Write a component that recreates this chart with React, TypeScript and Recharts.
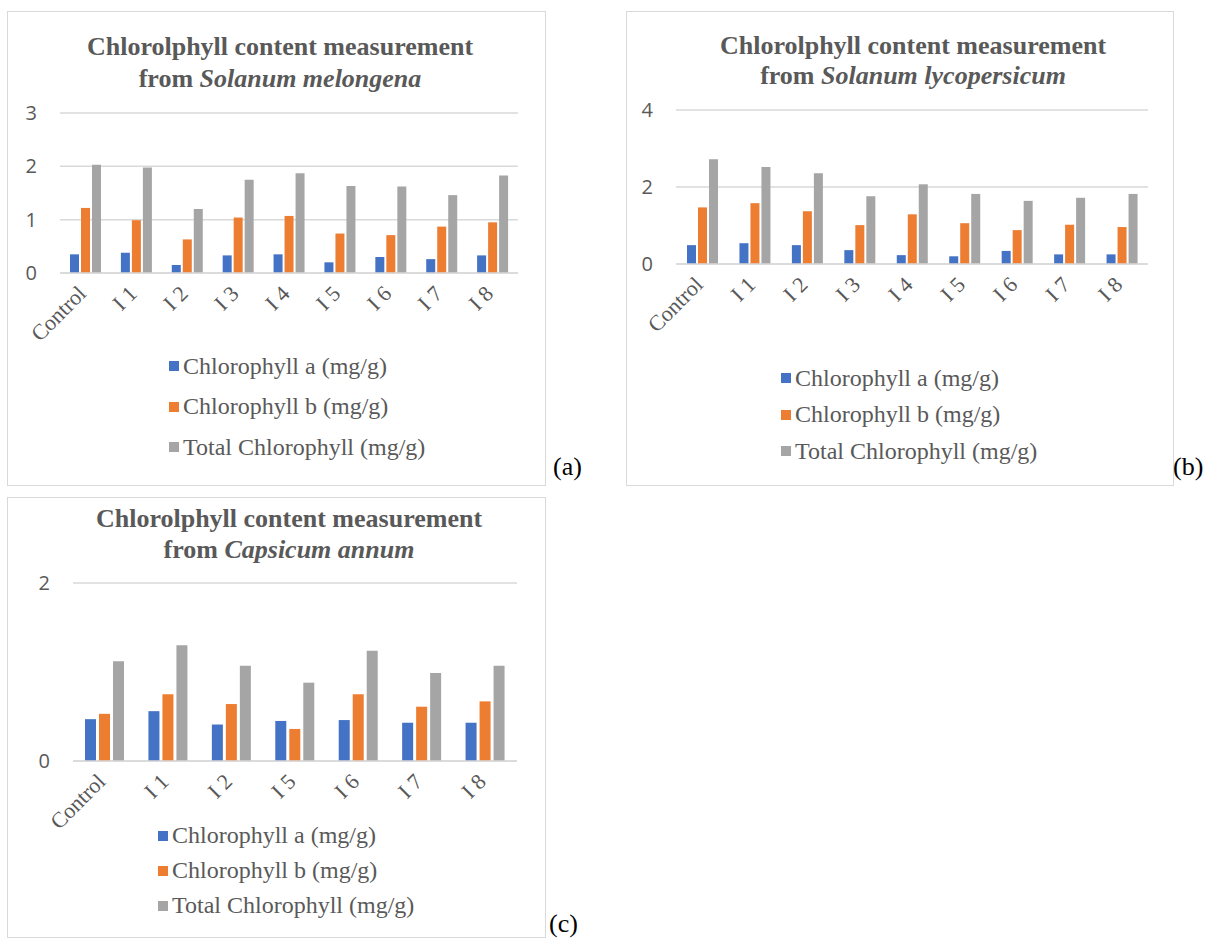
import { BarChart, Bar, XAxis, YAxis, CartesianGrid, Legend } from 'recharts'

// categories
const CATS_AB = ['Control', 'I 1', 'I 2', 'I 3', 'I 4', 'I 5', 'I 6', 'I 7', 'I 8']
const CATS_C = ['Control', 'I 1', 'I 2', 'I 5', 'I 6', 'I 7', 'I 8']

// (a) Solanum melongena
const MEL_A = [0.35, 0.38, 0.15, 0.33, 0.35, 0.2, 0.3, 0.26, 0.33]
const MEL_B = [1.22, 0.99, 0.63, 1.04, 1.07, 0.74, 0.71, 0.87, 0.95]
const MEL_T = [2.03, 1.98, 1.2, 1.75, 1.87, 1.63, 1.62, 1.46, 1.83]

// (b) Solanum lycopersicum
const LYC_A = [0.49, 0.54, 0.49, 0.36, 0.23, 0.2, 0.34, 0.25, 0.25]
const LYC_B = [1.47, 1.58, 1.37, 1.01, 1.29, 1.06, 0.88, 1.02, 0.96]
const LYC_T = [2.72, 2.52, 2.36, 1.76, 2.07, 1.82, 1.64, 1.72, 1.82]

// (c) Capsicum annum
const CAP_A = [0.47, 0.56, 0.41, 0.45, 0.46, 0.43, 0.43]
const CAP_B = [0.53, 0.75, 0.64, 0.36, 0.75, 0.61, 0.67]
const CAP_T = [1.12, 1.3, 1.07, 0.88, 1.24, 0.99, 1.07]

const TICKS_A = [0, 1, 2, 3]
const TICKS_B = [0, 2, 4]
const TICKS_C = [0, 2]

const SERIES = [
  { key: 'a', name: 'Chlorophyll a (mg/g)', color: '#4472c4' },
  { key: 'b', name: 'Chlorophyll b (mg/g)', color: '#ed7d31' },
  { key: 't', name: 'Total Chlorophyll (mg/g)', color: '#a5a5a5' },
]

const SERIF = "'Liberation Serif', 'Times New Roman', serif"
const SANS = "'Open Sans', 'Liberation Sans', sans-serif"
const GREY = '#595959'
const GRID = '#d9d9d9'

function rows(cats: string[], a: number[], b: number[], t: number[]) {
  return cats.map((c, i) => ({ cat: c, a: a[i], b: b[i], t: t[i] }))
}

function RotTick({ x, y, payload }: any) {
  const tx = x + 2
  const ty = y + 22
  return (
    <text
      x={tx}
      y={ty}
      transform={`rotate(-45 ${tx} ${ty})`}
      textAnchor="end"
      fill={GREY}
      fontSize={22}
      fontFamily={SERIF}
    >
      {payload.value}
    </text>
  )
}

function legendContent(rowH: number) {
  return ({ payload }: any) => (
    <div>
      {(payload || []).map((p: any) => (
        <div key={p.value} style={{ display: 'flex', alignItems: 'center', height: rowH }}>
          <span style={{ width: 10, height: 10, background: p.color, marginRight: 4, flex: 'none' }} />
          <span style={{ color: GREY, fontSize: 24, fontFamily: SERIF, whiteSpace: 'nowrap' }}>{p.value}</span>
        </div>
      ))}
    </div>
  )
}

type PanelProps = {
  left: number
  top: number
  width: number
  height: number
  species: string
  titleX: number
  titleY: number
  titleGap: number
  data: any[]
  ticks: number[]
  margin: { top: number; right: number; bottom: number; left: number }
  yWidth: number
  barSize: number
  barGap: number
  legendLeft: number
  legendTop: number
  legendRow: number
}

function Panel(p: PanelProps) {
  const max = p.ticks[p.ticks.length - 1]
  return (
    <div
      style={{
        position: 'absolute',
        left: p.left,
        top: p.top,
        width: p.width,
        height: p.height,
        border: `1px solid ${GRID}`,
        background: '#fff',
      }}
    >
      <div
        style={{
          position: 'absolute',
          left: p.titleX - 300,
          width: 600,
          top: p.titleY,
          textAlign: 'center',
          fontFamily: SERIF,
          fontWeight: 'bold',
          fontSize: 26,
          lineHeight: `${p.titleGap}px`,
          color: GREY,
          zIndex: 2,
        }}
      >
        Chlorolphyll content measurement
        <br />
        from <i>{p.species}</i>
      </div>
      <BarChart
        width={p.width}
        height={p.height}
        data={p.data}
        margin={p.margin}
        barSize={p.barSize}
        barGap={p.barGap}
      >
        <CartesianGrid vertical={false} stroke={GRID} strokeWidth={1.5} />
        <XAxis
          dataKey="cat"
          axisLine={{ stroke: GRID, strokeWidth: 1.5 }}
          tickLine={false}
          tickSize={0}
          tickMargin={0}
          interval={0}
          height={60}
          tick={<RotTick />}
        />
        <YAxis
          domain={[0, max]}
          ticks={p.ticks}
          width={p.yWidth}
          axisLine={false}
          tickLine={false}
          tickSize={0}
          tickMargin={23}
          tick={{ fill: GREY, fontSize: 20, fontFamily: SANS }}
        />
        <Legend
          layout="vertical"
          align="center"
          verticalAlign="middle"
          wrapperStyle={{ left: p.legendLeft, top: p.legendTop, width: 400, height: 'auto' }}
          content={legendContent(p.legendRow)}
        />
        {SERIES.map((s) => (
          <Bar key={s.key} dataKey={s.key} name={s.name} fill={s.color} isAnimationActive={false} />
        ))}
      </BarChart>
    </div>
  )
}

function Tag({ x, y, text }: { x: number; y: number; text: string }) {
  return (
    <div style={{ position: 'absolute', left: x, top: y, fontFamily: SERIF, fontSize: 26, color: '#000' }}>
      {text}
    </div>
  )
}

export default function App() {
  return (
    <div style={{ position: 'absolute', left: 0, top: 0, width: 1213, height: 942, background: '#fff', overflow: 'hidden' }}>
      <Panel
        left={7}
        top={11}
        width={537}
        height={473}
        species="Solanum melongena"
        titleX={272}
        titleY={19}
        titleGap={32}
        data={rows(CATS_AB, MEL_A, MEL_B, MEL_T)}
        ticks={TICKS_A}
        margin={{ top: 101, right: 27, bottom: 152, left: 0 }}
        yWidth={52}
        barSize={9}
        barGap={2}
        legendLeft={161}
        legendTop={334}
        legendRow={40.5}
      />
      <Panel
        left={626}
        top={11}
        width={546}
        height={473}
        species="Solanum lycopersicum"
        titleX={286}
        titleY={19}
        titleGap={30}
        data={rows(CATS_AB, LYC_A, LYC_B, LYC_T)}
        ticks={TICKS_B}
        margin={{ top: 98, right: 25, bottom: 161, left: 0 }}
        yWidth={49}
        barSize={9}
        barGap={2}
        legendLeft={154}
        legendTop={348}
        legendRow={36.5}
      />
      <Panel
        left={7}
        top={497}
        width={537}
        height={439}
        species="Capsicum annum"
        titleX={281}
        titleY={5}
        titleGap={31}
        data={rows(CATS_C, CAP_A, CAP_B, CAP_T)}
        ticks={TICKS_C}
        margin={{ top: 85, right: 28, bottom: 116, left: 0 }}
        yWidth={65}
        barSize={11}
        barGap={3}
        legendLeft={150}
        legendTop={320}
        legendRow={35}
      />
      <Tag x={553} y={452} text="(a)" />
      <Tag x={1173} y={452} text="(b)" />
      <Tag x={549} y={909} text="(c)" />
    </div>
  )
}
